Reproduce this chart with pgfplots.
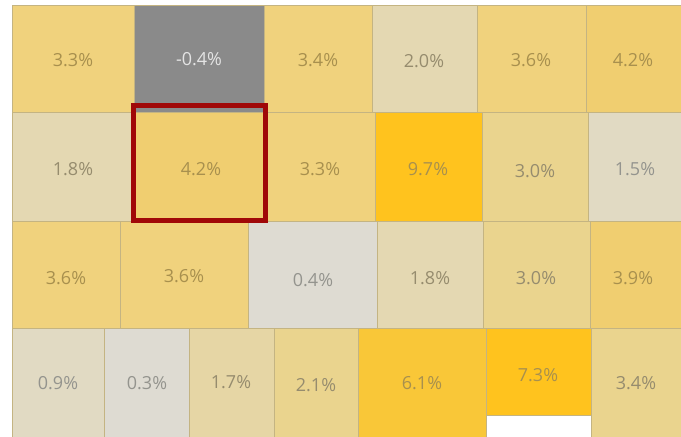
\documentclass[border=0pt]{standalone}
\usepackage{pgfplots}
\pgfplotsset{compat=1.18}
\usepackage{fontspec}
\setmainfont{Open Sans}
\definecolor{bd}{RGB}{196,180,130}
\definecolor{gA}{RGB}{240,210,125}
\definecolor{gB}{RGB}{240,206,112}
\definecolor{gC}{RGB}{234,212,142}
\definecolor{gD}{RGB}{230,214,165}
\definecolor{pA}{RGB}{228,216,178}
\definecolor{pB}{RGB}{225,218,195}
\definecolor{pC}{RGB}{222,219,210}
\definecolor{gry}{RGB}{138,138,138}
\definecolor{yA}{RGB}{255,195,30}
\definecolor{yB}{RGB}{249,199,56}
\definecolor{tG}{RGB}{168,144,78}
\definecolor{tP}{RGB}{150,140,110}
\definecolor{tL}{RGB}{148,148,142}
\definecolor{tW}{RGB}{228,228,228}
\definecolor{redbox}{RGB}{160,8,8}
\newcommand{\cell}[5]{\addplot[draw=bd, line width=1pt, fill=#5] coordinates {(#1,#3) (#2,#3) (#2,#4) (#1,#4) (#1,#3)};}
\pgfplotsset{lbl/.style={only marks, mark=none,
  nodes near coords={\pgfplotspointmeta\%},
  point meta=explicit symbolic,
  every node near coord/.append style={anchor=center, font=\fontsize{18}{21}\selectfont, text=#1}}}
\begin{document}
\begin{tikzpicture}
\begin{axis}[
  scale only axis, width=681pt, height=437pt,
  xmin=0, xmax=681, ymin=0, ymax=437, y dir=reverse,
  hide axis, clip=true,
]
% full-extent frame (white background)
\addplot[draw=none, fill=white] coordinates {(0,0) (681,0) (681,437) (0,437) (0,0)};
% row 1
\cell{12}{134}{5}{112.5}{gA}
\cell{134}{264.5}{5}{112.5}{gry}
\cell{264.5}{372}{5}{112.5}{gA}
\cell{372}{477}{5}{112.5}{pA}
\cell{477}{586}{5}{112.5}{gA}
\cell{586}{682}{5}{112.5}{gB}
% row 2
\cell{12}{134}{112.5}{221}{pA}
\cell{134}{265}{112.5}{221}{gB}
\cell{265}{375}{112.5}{221}{gA}
\cell{375}{482}{112.5}{221}{yA}
\cell{482}{588}{112.5}{221}{gC}
\cell{588}{682}{112.5}{221}{pB}
% row 3
\cell{12}{120.5}{221}{328}{gA}
\cell{120.5}{248}{221}{328}{gA}
\cell{248}{377}{221}{328}{pC}
\cell{377}{483}{221}{328}{pA}
\cell{483}{590}{221}{328}{gC}
\cell{590}{682}{221}{328}{gB}
% row 4
\cell{12}{104}{328}{438}{pB}
\cell{104}{189}{328}{438}{pC}
\cell{189}{274}{328}{438}{gD}
\cell{274}{358}{328}{438}{gC}
\cell{358}{486}{328}{438}{yB}
\cell{486}{591}{328}{415}{yA}
\cell{591}{682}{328}{438}{gC}
% highlight
\addplot[draw=redbox, line width=5pt] coordinates {(133.5,105) (265.5,105) (265.5,220) (133.5,220) (133.5,105)} -- cycle;
% labels
\addplot[lbl=tG] table[meta=l] {
x y l
73 60 3.3
318 60 3.4
531 60 3.6
633 60 4.2
201 169 4.2
320 169 3.3
428 169 9.7
66 278 3.6
184 276 3.6
633 278 3.9
422 383 6.1
538 375 7.3
};
\addplot[lbl=tP] table[meta=l] {
x y l
424 61 2.0
73 169 1.8
535 171 3.0
430 278 1.8
536 278 3.0
231 382 1.7
316 385 2.1
636 383 3.4
};
\addplot[lbl=tL] table[meta=l] {
x y l
635 169 1.5
313 280 0.4
58 383 0.9
147 383 0.3
};
\addplot[lbl=tW] table[meta=l] {
x y l
199 59 -0.4
};
\end{axis}
\end{tikzpicture}
\end{document}
